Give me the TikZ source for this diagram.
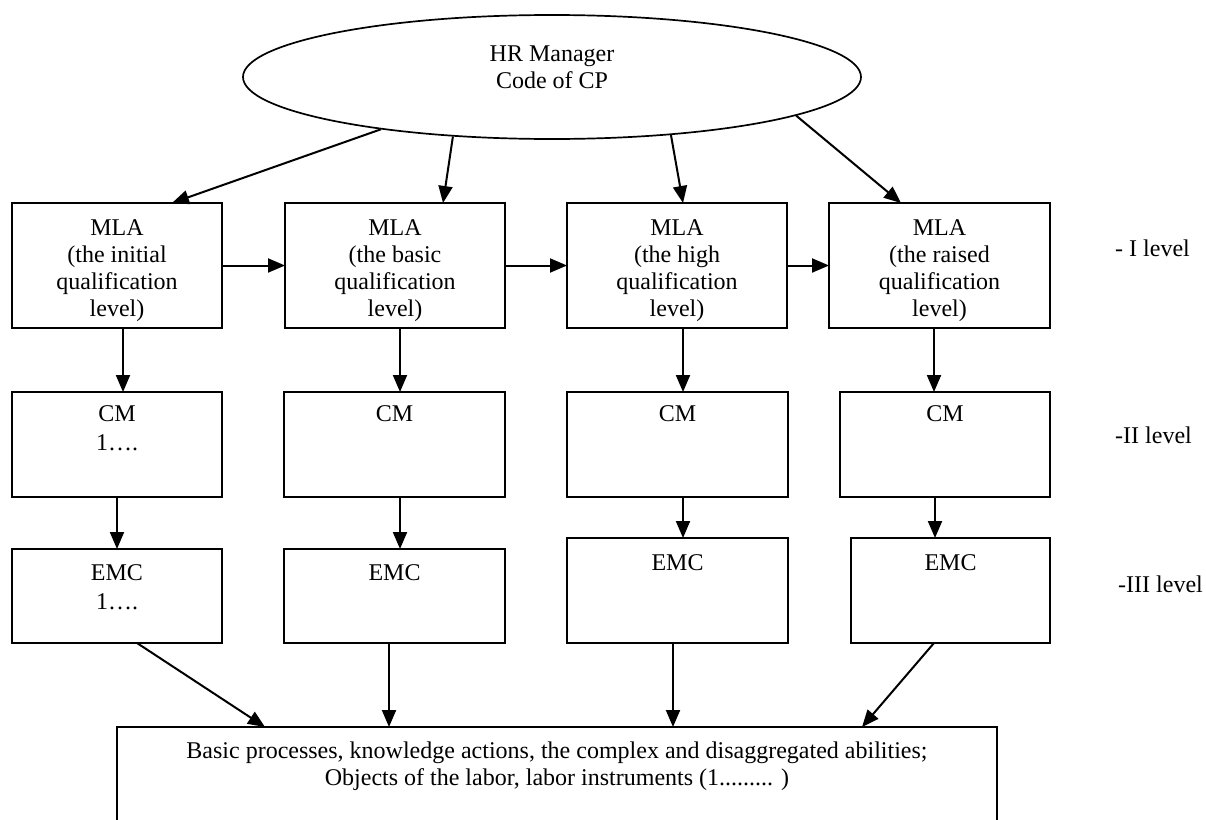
\documentclass[tikz,border=0pt]{standalone}
\usepackage{fontspec}
\setmainfont{Liberation Serif}
\usetikzlibrary{shapes.geometric,arrows.meta,calc}
\begin{document}
\begin{tikzpicture}[x=1pt,y=-1pt,
  every node/.style={font=\fontsize{24}{27}\selectfont},
  box/.style={draw, line width=1.7pt, rectangle, inner sep=0pt, outer sep=0pt, align=center},
  arr/.style={line width=2pt, -{Triangle[length=17pt,width=14pt]}},
  toplbl/.style={anchor=north, inner sep=0pt, align=center},
  midlbl/.style={anchor=center, inner sep=0pt, align=center, yshift=-5pt}
]
\useasboundingbox (0,0) rectangle (1206,819);

% top ellipse
\node[draw, ellipse, line width=1.7pt, minimum width=618pt, minimum height=124pt, inner sep=0pt] (hr) at (552,77) {};
\node[align=center, inner sep=0pt] (hrtext) at (552,67) {HR Manager\\Code of CP};

% level I
\node[box, minimum width=210pt, minimum height=125pt, label={[midlbl]center:MLA\\(the initial\\qualification\\level)}] (m1) at (117,265.5) {};
\node[box, minimum width=220pt, minimum height=125pt, label={[midlbl]center:MLA\\(the basic\\qualification\\level)}] (m2) at (395,265.5) {};
\node[box, minimum width=220pt, minimum height=125pt, label={[midlbl]center:MLA\\(the high\\qualification\\level)}] (m3) at (677,265.5) {};
\node[box, minimum width=221pt, minimum height=125pt, label={[midlbl]center:MLA\\(the raised\\qualification\\level)}] (m4) at (939.5,265.5) {};

% level II
\node[box, minimum width=210pt, minimum height=105pt, label={[toplbl, yshift=-13pt]north:CM\\[2pt]1….}] (c1) at (117,444.5) {};
\node[box, minimum width=221pt, minimum height=105pt, label={[toplbl, yshift=-13pt]north:CM}] (c2) at (394.5,444.5) {};
\node[box, minimum width=221pt, minimum height=105pt, label={[toplbl, yshift=-13pt]north:CM}] (c3) at (677.5,444.5) {};
\node[box, minimum width=210pt, minimum height=105pt, label={[toplbl, yshift=-13pt]north:CM}] (c4) at (945,444.5) {};

% level III
\node[box, minimum width=210pt, minimum height=94pt, label={[toplbl, yshift=-15pt]north:EMC\\[2pt]1….}] (e1) at (117,596) {};
\node[box, minimum width=221pt, minimum height=94pt, label={[toplbl, yshift=-15pt]north:EMC}] (e2) at (394.5,596) {};
\node[box, minimum width=221pt, minimum height=105pt, label={[toplbl, yshift=-16pt]north:EMC}] (e3) at (677.5,590.5) {};
\node[box, minimum width=199pt, minimum height=105pt, label={[toplbl, yshift=-16pt]north:EMC}] (e4) at (950.5,590.5) {};

% bottom box
\node[box, minimum width=880pt, minimum height=96pt, label={[toplbl, yshift=-15pt]north:Basic processes, knowledge actions, the complex and disaggregated abilities;\\Objects of the labor, labor instruments (1......... )}] (b) at (557,775) {};

% level labels
\node[anchor=west, inner sep=0pt] (l1) at (1115,248) {- I level};
\node[anchor=west, inner sep=0pt] (l2) at (1115,435) {-II level};
\node[anchor=west, inner sep=0pt] (l3) at (1118,584) {-III level};

% arrows from ellipse
\draw[arr] (hr.197) -- ([xshift=55pt]m1.north);
\draw[arr] (hr.211) -- ([xshift=48pt]m2.north);
\draw[arr] (hr.334) -- ([xshift=6pt]m3.north);
\draw[arr] (hr.351) -- ([xshift=-38.5pt]m4.north);

% horizontal arrows
\draw[arr] (m1.east) -- (m2.west);
\draw[arr] (m2.east) -- (m3.west);
\draw[arr] (m3.east) -- (m4.west);

% MLA -> CM
\draw[arr] ([xshift=6pt]m1.south) -- ([xshift=6pt]c1.north);
\draw[arr] ([xshift=5pt]m2.south) -- ([xshift=5.5pt]c2.north);
\draw[arr] ([xshift=6pt]m3.south) -- ([xshift=5.5pt]c3.north);
\draw[arr] ([xshift=-5.5pt]m4.south) -- ([xshift=-11pt]c4.north);

% CM -> EMC
\draw[arr] (c1.south) -- (e1.north);
\draw[arr] ([xshift=5.5pt]c2.south) -- ([xshift=5.5pt]e2.north);
\draw[arr] ([xshift=5.5pt]c3.south) -- ([xshift=5.5pt]e3.north);
\draw[arr] ([xshift=-10pt]c4.south) -- ([xshift=-15.5pt]e4.north);

% EMC -> bottom
\draw[arr] ([xshift=20pt]e1.south) -- ([xshift=-292pt]b.north);
\draw[arr] ([xshift=-5.5pt]e2.south) -- ([xshift=-168pt]b.north);
\draw[arr] ([xshift=-4.5pt]e3.south) -- ([xshift=116pt]b.north);
\draw[arr] ([xshift=-16.5pt]e4.south) -- ([xshift=305pt]b.north);
\end{tikzpicture}
\end{document}
